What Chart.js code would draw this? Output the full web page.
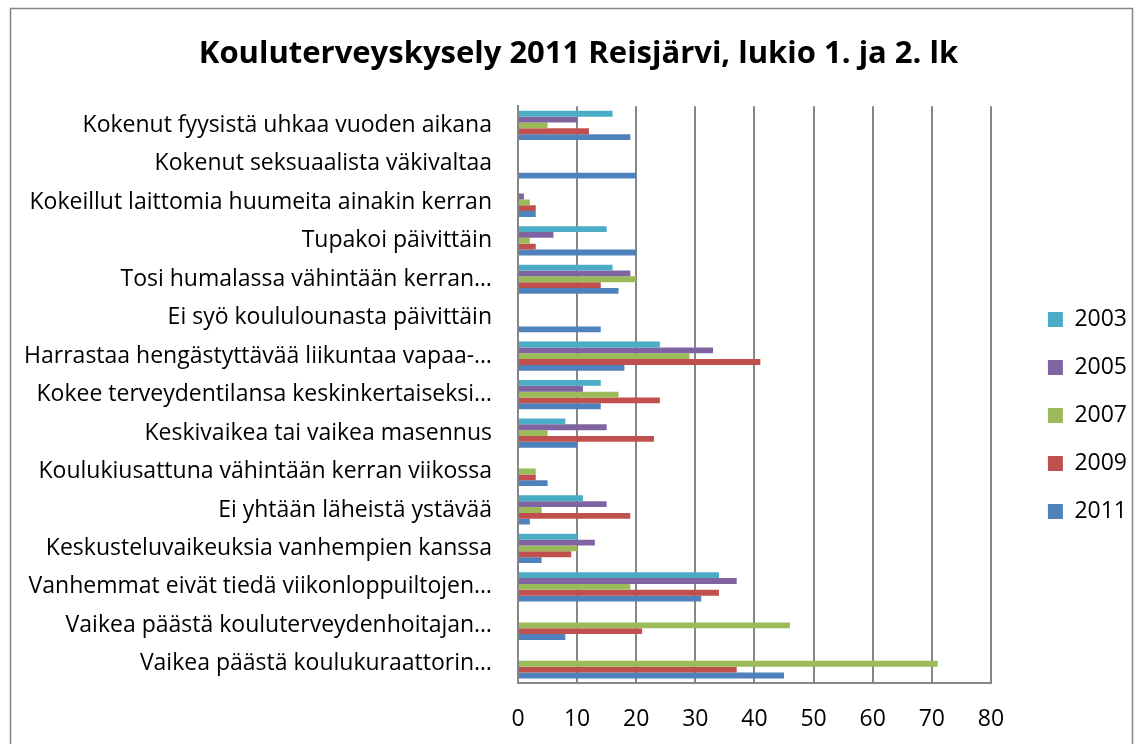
<!DOCTYPE html>
<html>
<head>
<meta charset="utf-8">
<script src="https://cdn.jsdelivr.net/npm/chart.js@4"></script>
<style>
  body { margin: 0; background: #fff; }
  #wrap { width: 1137px; height: 744px; }
</style>
</head>
<body>
<div id="wrap"><canvas id="kyselyChart"></canvas></div>
<script>
const categories = [
    'Kokenut fyysistä uhkaa vuoden aikana',
    'Kokenut seksuaalista väkivaltaa',
    'Kokeillut laittomia huumeita ainakin kerran',
    'Tupakoi päivittäin',
    'Tosi humalassa vähintään kerran…',
    'Ei syö koululounasta päivittäin',
    'Harrastaa hengästyttävää liikuntaa vapaa-…',
    'Kokee terveydentilansa keskinkertaiseksi…',
    'Keskivaikea tai vaikea masennus',
    'Koulukiusattuna vähintään kerran viikossa',
    'Ei yhtään läheistä ystävää',
    'Keskusteluvaikeuksia vanhempien kanssa',
    'Vanhemmat eivät tiedä viikonloppuiltojen…',
    'Vaikea päästä kouluterveydenhoitajan…',
    'Vaikea päästä koulukuraattorin…'
]
const years = ['2003', '2005', '2007', '2009', '2011']
const values2003 = [16, 0, 0, 15, 16, 0, 24, 14, 8, 0, 11, 10, 34, 0, 0]
const values2005 = [10, 0, 1, 6, 19, 0, 33, 11, 15, 0, 15, 13, 37, 0, 0]
const values2007 = [5, 0, 2, 2, 20, 0, 29, 17, 5, 3, 4, 10, 19, 46, 71]
const values2009 = [12, 0, 3, 3, 14, 0, 41, 24, 23, 3, 19, 9, 34, 21, 37]
const values2011 = [19, 20, 3, 20, 17, 14, 18, 14, 10, 5, 2, 4, 31, 8, 45]
const xTicks = [0, 10, 20, 30, 40, 50, 60, 70, 80]

const colors = ['#4BACC6', '#8064A2', '#9BBB59', '#C0504D', '#4F81BD']
const series = [values2003, values2005, values2007, values2009, values2011]

document.addEventListener('DOMContentLoaded', function() {

    // white background + outer frame like the Excel chart area
    const frame = {
        id: 'frame',
        beforeDraw(chart) {
            const c = chart.ctx
            c.save()
            c.fillStyle = '#ffffff'
            c.fillRect(0, 0, chart.width, chart.height)
            c.strokeStyle = '#868686'
            c.lineWidth = 1.5
            c.strokeRect(10.5, 8.5, chart.width - 15, chart.height + 20)
            c.restore()
        }
    }

    var datasets = []
    for (i = 0; i < years.length; i++) {
        datasets.push({
            label: years[i],
            data: series[i],
            backgroundColor: colors[i],
            borderWidth: 0,
            barPercentage: 1.0,
            categoryPercentage: 0.76
        })
    }

    var font = 'Open Sans'
    var ctx = document.getElementById('kyselyChart')
    new Chart(ctx, {
        type: 'bar',
        data: {
            labels: categories,
            datasets: datasets
        },
        plugins: [frame],
        options: {
            indexAxis: 'y',
            responsive: true,
            maintainAspectRatio: false,
            animation: false,
            layout: {
                padding: { left: 20, right: 0, top: 0, bottom: 11 }
            },
            scales: {
                x: {
                    min: 0,
                    max: 80,
                    afterBuildTicks: function(scale) {
                        scale.ticks = xTicks.map(v => ({ value: v }))
                    },
                    afterFit: function(scale) {
                        scale.height = 50
                    },
                    grid: {
                        color: '#868686',
                        lineWidth: 2,
                        drawTicks: false
                    },
                    border: { display: true, color: '#868686', width: 2 },
                    ticks: {
                        color: '#000000',
                        padding: 23,
                        font: { family: font, size: 23 }
                    }
                },
                y: {
                    grid: { display: false, drawTicks: false },
                    border: { display: true, color: '#868686', width: 2 },
                    afterFit: function(scale) {
                        scale.width = 498
                    },
                    ticks: {
                        color: '#000000',
                        padding: 26,
                        autoSkip: false,
                        font: { family: font, size: 23 }
                    }
                },
                // empty spacer between plot and legend
                gap: {
                    type: 'linear',
                    position: 'right',
                    grid: { display: false, drawTicks: false },
                    border: { display: false },
                    ticks: { display: false },
                    afterFit: function(scale) {
                        scale.width = 32
                    }
                }
            },
            plugins: {
                title: {
                    display: true,
                    text: 'Kouluterveyskysely 2011 Reisjärvi, lukio 1. ja 2. lk',
                    color: '#000000',
                    font: { family: font, size: 31, weight: 'bold' },
                    padding: { top: 36, bottom: 33 }
                },
                legend: {
                    position: 'right',
                    title: {
                        display: true,
                        text: ' ',
                        font: { size: 10 },
                        padding: { top: 0, bottom: 86 }
                    },
                    labels: {
                        color: '#000000',
                        boxWidth: 15,
                        boxHeight: 15,
                        padding: 25,
                        font: { family: font, size: 23 }
                    }
                },
                tooltip: { enabled: false }
            }
        }
    })
})
</script>
</body>
</html>
